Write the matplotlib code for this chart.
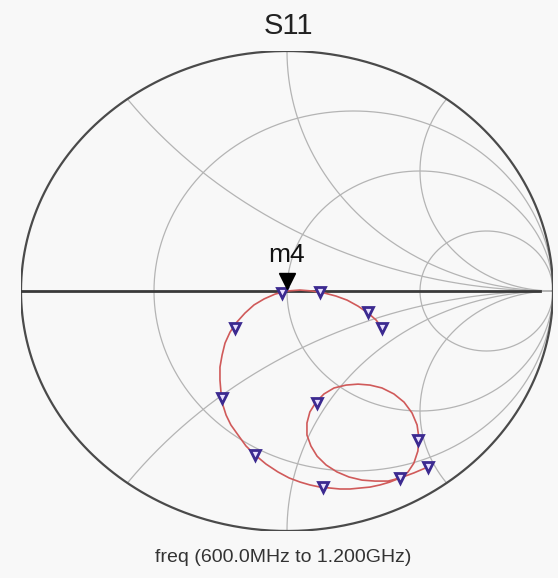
"""
S11 Smith chart, 600 MHz to 1.2 GHz sweep with markers.
"""

# %% ---- Requirements and constants
import numpy as np
import matplotlib
matplotlib.use('Agg')
import matplotlib.pyplot as plt
from matplotlib import transforms

s11_re = [0.530, 0.477, 0.425, 0.380, 0.331, 0.282, 0.233, 0.188, 0.147,
          0.113, 0.090, 0.075, 0.075, 0.086, 0.109, 0.139, 0.177, 0.222,
          0.267, 0.312, 0.357, 0.402, 0.440, 0.470, 0.489, 0.496, 0.492,
          0.477, 0.455, 0.425, 0.387, 0.350, 0.312, 0.274, 0.237, 0.199,
          0.162, 0.124, 0.086, 0.049, 0.008, -0.034, -0.079, -0.120,
          -0.154, -0.184, -0.211, -0.229, -0.241, -0.248, -0.252, -0.252,
          -0.244, -0.233, -0.214, -0.188, -0.158, -0.124, -0.086, -0.045,
          0.000, 0.049, 0.094, 0.139, 0.184, 0.226, 0.267, 0.305, 0.335,
          0.357]
s11_im = [-0.733, -0.758, -0.779, -0.792, -0.792, -0.788, -0.775, -0.754,
          -0.725, -0.688, -0.646, -0.600, -0.550, -0.504, -0.463, -0.429,
          -0.404, -0.392, -0.388, -0.392, -0.404, -0.429, -0.463, -0.508,
          -0.558, -0.613, -0.667, -0.717, -0.754, -0.779, -0.796, -0.808,
          -0.817, -0.821, -0.825, -0.825, -0.821, -0.817, -0.808, -0.796,
          -0.779, -0.754, -0.721, -0.683, -0.646, -0.600, -0.558, -0.517,
          -0.475, -0.425, -0.371, -0.317, -0.267, -0.217, -0.171, -0.129,
          -0.092, -0.058, -0.033, -0.013, 0.000, 0.004, 0.000, -0.008,
          -0.021, -0.038, -0.063, -0.092, -0.121, -0.154]

# frequency markers along the trace
mk_re = [0.530, 0.425, 0.492, 0.113, 0.135, -0.120, -0.244, -0.195,
         -0.019, 0.124, 0.305, 0.357]
mk_im = [-0.733, -0.779, -0.621, -0.467, -0.817, -0.683, -0.446, -0.154,
         -0.008, -0.004, -0.088, -0.154]

# marker m4
m4_re, m4_im = 0.0, 0.0

# grid values
r_circles = [1 / 3, 1, 3]
x_arcs = [0.5, 1, 2, -0.5, -1, -2]

title = 'S11'
xlabel = 'freq (600.0MHz to 1.200GHz)'

plt.rcParams['font.family'] = ['Liberation Sans', 'DejaVu Sans']


# %% ---- Function and class
def circle_pts(cx, cy, rad, n=720):
    t = np.linspace(0, 2 * np.pi, n)
    return cx + rad * np.cos(t), cy + rad * np.sin(t)


def clip_unit(px, py):
    px = np.array(px, dtype=float)
    py = np.array(py, dtype=float)
    out = px ** 2 + py ** 2 > 1.0005
    px[out] = np.nan
    py[out] = np.nan
    return px, py


# %% ---- Play ground
fig = plt.figure(figsize=(5.58, 5.78), dpi=100, facecolor='#f8f8f8')
ax = fig.add_axes([21 / 558, 47 / 578, 532 / 558, 480 / 578])
ax.set_xlim(-1, 1)
ax.set_ylim(-1, 1)
ax.axis('off')
ax.patch.set_alpha(0)

grid_kw = dict(color='#b4b4b4', lw=0.9, zorder=1)
for r in r_circles:
    gx, gy = circle_pts(r / (1 + r), 0, 1 / (1 + r))
    ax.plot(gx, gy, **grid_kw)
for xv in x_arcs:
    gx, gy = circle_pts(1, 1 / xv, abs(1 / xv), n=2000)
    ax.plot(*clip_unit(gx, gy), **grid_kw)

# outer circle and real axis
ox, oy = circle_pts(0, 0, 1)
ax.plot(ox, oy, color='#4a4a4a', lw=1.6, zorder=2)
ax.plot([-1, 0.95], [0, 0], color='#3a3a3a', lw=2.0, zorder=2)

# trace
ax.plot(s11_re, s11_im, color='#d05a5a', lw=1.2, zorder=3)
ax.plot(mk_re, mk_im, ls='none', marker='v', ms=7, mfc='#e8e0ff',
        mec='#3c2a90', mew=2.0, zorder=4)

# m4 marker
tri_off = transforms.offset_copy(ax.transData, fig=fig, x=0, y=7, units='points')
ax.plot([m4_re], [m4_im], ls='none', marker='v', ms=12, color='black',
        transform=tri_off, zorder=5)
ax.annotate('m4', xy=(m4_re, m4_im), xytext=(0, 17), textcoords='offset points',
            ha='center', va='bottom', fontsize=19, color='#111111', zorder=5)

fig.text(288 / 558, 1 - 26 / 578, title, ha='center', va='center',
         fontsize=21, color='#222222')
fig.text(283 / 558, 1 - 557 / 578, xlabel, ha='center', va='center',
         fontsize=14, color='#333333')

fig.savefig('out.png', dpi=100, facecolor=fig.get_facecolor())
